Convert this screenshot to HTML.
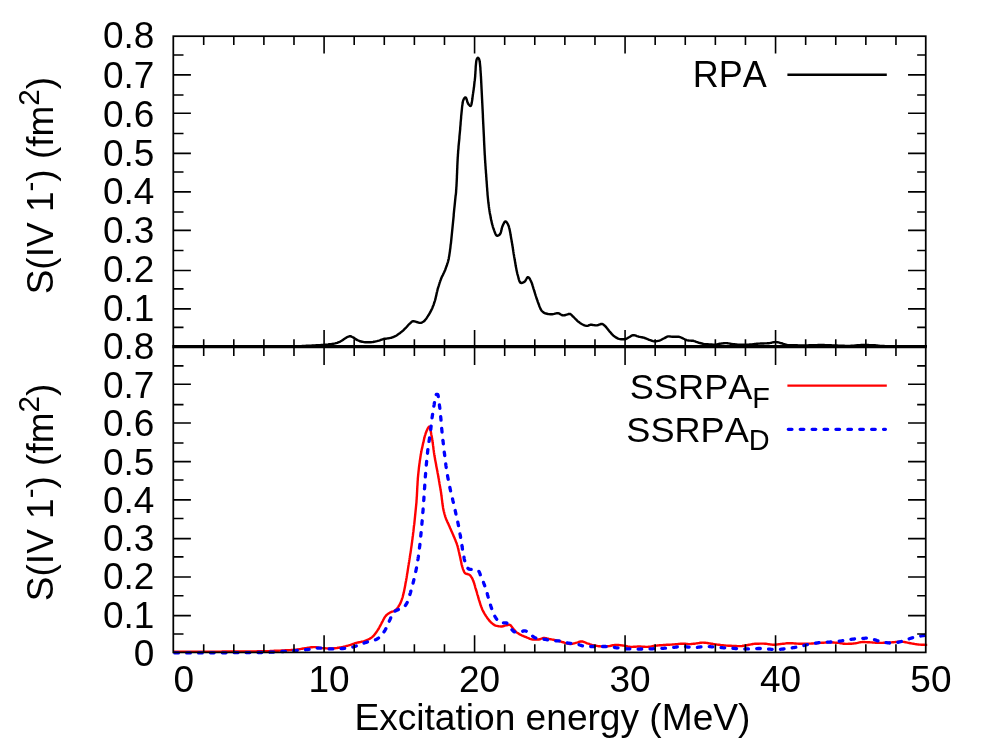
<!DOCTYPE html>
<html><head><meta charset="utf-8"><title>chart</title>
<style>
html,body{margin:0;padding:0;background:#fff;}
body{width:987px;height:740px;position:relative;overflow:hidden;font-family:"Liberation Sans",sans-serif;}
</style></head><body>
<svg width="987" height="740" viewBox="0 0 987 740" style="position:absolute;left:0;top:0">
<g fill="none" stroke-linejoin="round">
<path d="M173.3,346.6 L174.3,346.6 L175.3,346.6 L176.3,346.6 L177.3,346.6 L178.3,346.6 L179.3,346.6 L180.3,346.6 L181.3,346.6 L182.3,346.6 L183.3,346.6 L184.3,346.6 L185.3,346.6 L186.3,346.6 L187.3,346.6 L188.3,346.6 L189.3,346.6 L190.3,346.6 L191.3,346.6 L192.3,346.6 L193.3,346.6 L194.3,346.6 L195.3,346.6 L196.3,346.6 L197.3,346.6 L198.3,346.6 L199.3,346.6 L200.3,346.6 L201.3,346.6 L202.3,346.6 L203.3,346.6 L204.3,346.6 L205.3,346.6 L206.3,346.6 L207.3,346.6 L208.3,346.6 L209.3,346.5 L210.3,346.5 L211.3,346.5 L212.3,346.5 L213.3,346.5 L214.3,346.5 L215.3,346.5 L216.3,346.5 L217.3,346.5 L218.3,346.5 L219.3,346.5 L220.3,346.5 L221.3,346.5 L222.3,346.5 L223.3,346.5 L224.3,346.5 L225.3,346.5 L226.3,346.5 L227.3,346.5 L228.3,346.5 L229.3,346.5 L230.3,346.5 L231.3,346.5 L232.3,346.5 L233.3,346.5 L234.3,346.5 L235.3,346.5 L236.3,346.5 L237.3,346.5 L238.3,346.5 L239.3,346.5 L240.3,346.5 L241.3,346.5 L242.3,346.5 L243.3,346.5 L244.3,346.5 L245.3,346.5 L246.3,346.5 L247.3,346.5 L248.3,346.5 L249.3,346.5 L250.3,346.5 L251.3,346.4 L252.3,346.4 L253.3,346.4 L254.3,346.4 L255.3,346.4 L256.3,346.4 L257.3,346.4 L258.3,346.4 L259.3,346.4 L260.3,346.4 L261.3,346.4 L262.3,346.4 L263.3,346.4 L264.3,346.4 L265.3,346.4 L266.3,346.4 L267.3,346.4 L268.3,346.4 L269.3,346.4 L270.3,346.4 L271.3,346.4 L272.3,346.4 L273.3,346.4 L274.3,346.4 L275.3,346.4 L276.3,346.4 L277.3,346.3 L278.3,346.3 L279.3,346.3 L280.3,346.3 L281.3,346.3 L282.3,346.3 L283.3,346.3 L284.3,346.3 L285.3,346.3 L286.3,346.3 L287.3,346.3 L288.3,346.3 L289.3,346.3 L290.3,346.3 L291.3,346.2 L292.3,346.2 L293.3,346.2 L294.3,346.2 L295.3,346.2 L296.3,346.2 L297.3,346.2 L298.3,346.2 L299.3,346.1 L300.3,346.1 L301.3,346.1 L302.3,346.0 L303.3,346.0 L304.3,345.9 L305.3,345.9 L306.2,345.8 L307.2,345.8 L308.2,345.7 L309.2,345.7 L310.2,345.6 L311.2,345.6 L312.2,345.5 L313.2,345.5 L314.2,345.4 L315.2,345.4 L316.2,345.3 L317.2,345.3 L318.2,345.2 L319.2,345.2 L320.2,345.1 L321.2,345.0 L322.2,345.0 L323.2,344.9 L324.2,344.8 L325.2,344.7 L326.2,344.7 L327.2,344.6 L328.2,344.5 L329.2,344.3 L330.2,344.2 L331.2,344.1 L332.2,343.9 L333.2,343.8 L334.1,343.6 L335.1,343.4 L336.1,343.1 L337.1,342.8 L338.0,342.5 L338.9,342.1 L339.9,341.8 L340.7,341.3 L341.6,340.8 L342.4,340.3 L343.2,339.7 L344.1,339.1 L344.9,338.5 L345.8,338.0 L346.6,337.4 L347.5,337.0 L348.4,336.6 L349.4,336.3 L350.3,336.2 L351.3,336.5 L352.2,337.0 L353.1,337.4 L354.0,337.9 L354.8,338.5 L355.6,339.1 L356.5,339.6 L357.4,340.1 L358.3,340.5 L359.2,340.9 L360.1,341.3 L361.1,341.5 L362.1,341.7 L363.0,341.9 L364.0,342.1 L365.0,342.2 L366.0,342.2 L367.0,342.2 L368.0,342.2 L369.0,342.2 L370.0,342.2 L371.0,342.2 L372.0,342.1 L373.0,342.0 L374.0,341.8 L375.0,341.6 L376.0,341.4 L376.9,341.2 L377.9,340.9 L378.9,340.6 L379.8,340.3 L380.8,339.9 L381.7,339.6 L382.6,339.3 L383.6,339.0 L384.6,338.8 L385.6,338.7 L386.6,338.6 L387.6,338.4 L388.6,338.3 L389.5,338.1 L390.5,337.9 L391.5,337.7 L392.4,337.3 L393.4,337.0 L394.3,336.6 L395.2,336.2 L396.1,335.7 L396.9,335.2 L397.8,334.6 L398.6,334.0 L399.4,333.4 L400.2,332.9 L401.0,332.2 L401.8,331.6 L402.5,331.0 L403.3,330.3 L404.0,329.6 L404.7,328.9 L405.5,328.2 L406.1,327.5 L406.8,326.8 L407.5,326.0 L408.1,325.3 L408.8,324.5 L409.5,323.8 L410.3,323.1 L411.1,322.3 L411.9,321.6 L412.7,321.2 L413.6,321.1 L414.5,321.3 L415.5,321.6 L416.5,322.0 L417.5,322.2 L418.5,322.6 L419.4,322.8 L420.4,322.9 L421.4,322.7 L422.3,322.3 L423.2,321.8 L424.0,321.3 L424.7,320.6 L425.3,319.8 L426.0,319.0 L426.6,318.1 L427.1,317.3 L427.7,316.4 L428.2,315.6 L428.8,314.8 L429.3,313.9 L429.8,313.0 L430.3,312.2 L430.7,311.3 L431.2,310.4 L431.6,309.5 L432.1,308.6 L432.5,307.7 L432.8,306.7 L433.2,305.8 L433.6,304.9 L433.9,303.9 L434.2,303.0 L434.5,302.0 L434.8,301.1 L435.1,300.1 L435.4,299.2 L435.6,298.2 L435.8,297.2 L436.1,296.2 L436.3,295.3 L436.5,294.3 L436.7,293.3 L436.9,292.3 L437.2,291.3 L437.4,290.4 L437.6,289.4 L437.9,288.4 L438.2,287.5 L438.5,286.5 L438.8,285.6 L439.1,284.6 L439.4,283.7 L439.7,282.7 L440.0,281.8 L440.3,280.8 L440.7,279.9 L441.0,279.0 L441.4,278.0 L441.8,277.1 L442.2,276.2 L442.7,275.3 L443.1,274.4 L443.5,273.5 L444.0,272.6 L444.4,271.7 L444.8,270.8 L445.2,269.9 L445.5,268.9 L445.9,268.0 L446.2,267.0 L446.6,266.1 L446.9,265.2 L447.2,264.2 L447.5,263.2 L447.8,262.3 L448.1,261.3 L448.3,260.4 L448.6,259.4 L448.8,258.4 L448.9,257.4 L449.1,256.5 L449.3,255.5 L449.4,254.5 L449.6,253.5 L449.7,252.5 L449.9,251.5 L450.0,250.5 L450.1,249.5 L450.3,248.5 L450.4,247.5 L450.5,246.5 L450.6,245.5 L450.7,244.6 L450.9,243.6 L451.0,242.6 L451.1,241.6 L451.2,240.6 L451.3,239.6 L451.4,238.6 L451.5,237.6 L451.6,236.6 L451.7,235.6 L451.8,234.6 L451.9,233.6 L452.0,232.6 L452.1,231.6 L452.2,230.6 L452.3,229.6 L452.4,228.6 L452.5,227.7 L452.6,226.7 L452.7,225.7 L452.8,224.7 L452.9,223.7 L453.0,222.7 L453.1,221.7 L453.2,220.7 L453.3,219.7 L453.4,218.7 L453.5,217.7 L453.6,216.7 L453.7,215.7 L453.7,214.7 L453.8,213.7 L453.9,212.7 L454.0,211.7 L454.1,210.7 L454.2,209.7 L454.3,208.7 L454.4,207.7 L454.5,206.8 L454.6,205.8 L454.7,204.8 L454.8,203.8 L454.9,202.8 L455.0,201.8 L455.1,200.8 L455.2,199.8 L455.3,198.8 L455.4,197.8 L455.5,196.8 L455.6,195.8 L455.8,194.8 L455.9,193.8 L456.0,192.8 L456.1,191.8 L456.1,190.8 L456.2,189.8 L456.3,188.8 L456.3,187.9 L456.4,186.9 L456.5,185.9 L456.5,184.9 L456.6,183.9 L456.6,182.9 L456.7,181.9 L456.7,180.9 L456.8,179.9 L456.8,178.9 L456.9,177.9 L456.9,176.9 L456.9,175.9 L457.0,174.9 L457.0,173.9 L457.1,172.9 L457.1,171.9 L457.1,170.9 L457.2,169.9 L457.2,168.9 L457.3,167.9 L457.3,166.9 L457.3,165.9 L457.4,164.9 L457.4,163.9 L457.5,162.9 L457.5,161.9 L457.6,160.9 L457.6,159.9 L457.7,158.9 L457.7,157.9 L457.8,156.9 L457.9,155.9 L457.9,154.9 L458.0,153.9 L458.1,152.9 L458.1,151.9 L458.2,150.9 L458.3,149.9 L458.4,148.9 L458.5,147.9 L458.5,146.9 L458.6,145.9 L458.7,144.9 L458.8,143.9 L458.9,142.9 L459.0,141.9 L459.1,141.0 L459.2,140.0 L459.3,139.0 L459.4,138.0 L459.4,137.0 L459.5,136.0 L459.6,135.0 L459.7,134.0 L459.8,133.0 L459.9,132.0 L460.0,131.0 L460.1,130.0 L460.2,129.0 L460.2,128.0 L460.3,127.0 L460.4,126.0 L460.5,125.0 L460.6,124.0 L460.6,123.0 L460.7,122.0 L460.8,121.0 L460.9,120.0 L461.0,119.0 L461.1,118.0 L461.1,117.0 L461.2,116.0 L461.3,115.1 L461.4,114.1 L461.5,113.1 L461.6,112.1 L461.7,111.1 L461.8,110.1 L461.9,109.1 L462.0,108.0 L462.1,107.0 L462.2,106.0 L462.4,105.0 L462.5,104.0 L462.7,103.0 L462.8,102.0 L463.0,101.1 L463.3,100.2 L463.8,99.1 L464.4,98.1 L465.1,97.4 L465.6,97.4 L466.0,97.8 L466.4,98.6 L466.7,99.7 L467.1,100.9 L467.4,102.1 L467.9,103.2 L468.4,104.1 L469.2,105.0 L470.0,105.8 L470.5,106.0 L470.8,105.8 L471.1,105.3 L471.4,104.6 L471.6,103.6 L471.8,102.6 L472.0,101.4 L472.2,100.1 L472.4,98.8 L472.5,97.5 L472.7,96.3 L472.8,95.1 L473.0,94.0 L473.1,93.1 L473.3,92.1 L473.4,91.1 L473.6,90.1 L473.7,89.1 L473.8,88.1 L474.0,87.1 L474.1,86.1 L474.2,85.1 L474.3,84.1 L474.4,83.1 L474.5,82.1 L474.6,81.2 L474.8,80.2 L474.9,79.2 L475.0,78.2 L475.1,77.2 L475.2,76.2 L475.2,75.2 L475.3,74.1 L475.4,73.1 L475.4,72.1 L475.5,71.0 L475.6,70.0 L475.6,69.0 L475.7,67.9 L475.7,66.9 L475.8,65.9 L475.9,64.9 L476.0,63.9 L476.1,62.9 L476.2,62.0 L476.3,61.1 L476.5,60.2 L476.7,59.3 L477.3,58.2 L477.9,57.7 L478.5,58.2 L479.1,59.2 L479.5,60.3 L479.6,61.3 L479.8,62.2 L479.9,63.2 L480.0,64.2 L480.1,65.2 L480.2,66.2 L480.3,67.2 L480.4,68.2 L480.4,69.3 L480.5,70.3 L480.6,71.3 L480.6,72.2 L480.7,73.2 L480.8,74.2 L480.8,75.2 L480.9,76.2 L481.0,77.2 L481.0,78.2 L481.1,79.2 L481.1,80.2 L481.2,81.2 L481.2,82.2 L481.3,83.2 L481.3,84.2 L481.4,85.2 L481.4,86.2 L481.5,87.2 L481.5,88.2 L481.6,89.2 L481.6,90.2 L481.7,91.2 L481.7,92.2 L481.8,93.2 L481.8,94.2 L481.9,95.2 L481.9,96.2 L482.0,97.2 L482.0,98.2 L482.1,99.2 L482.1,100.2 L482.2,101.2 L482.2,102.2 L482.3,103.2 L482.3,104.2 L482.4,105.2 L482.4,106.2 L482.5,107.2 L482.5,108.2 L482.6,109.2 L482.6,110.2 L482.7,111.2 L482.7,112.2 L482.8,113.2 L482.8,114.2 L482.9,115.2 L482.9,116.2 L482.9,117.2 L483.0,118.2 L483.0,119.2 L483.1,120.2 L483.1,121.2 L483.2,122.2 L483.2,123.2 L483.3,124.2 L483.3,125.2 L483.4,126.2 L483.4,127.2 L483.5,128.2 L483.5,129.2 L483.6,130.2 L483.6,131.2 L483.7,132.2 L483.7,133.2 L483.8,134.2 L483.8,135.2 L483.9,136.1 L483.9,137.1 L484.0,138.1 L484.0,139.1 L484.0,140.1 L484.1,141.1 L484.1,142.1 L484.2,143.1 L484.2,144.1 L484.3,145.1 L484.3,146.1 L484.4,147.1 L484.4,148.1 L484.5,149.1 L484.5,150.1 L484.6,151.1 L484.6,152.1 L484.7,153.1 L484.7,154.1 L484.8,155.1 L484.9,156.1 L484.9,157.1 L485.0,158.1 L485.0,159.1 L485.1,160.1 L485.2,161.1 L485.2,162.1 L485.3,163.1 L485.4,164.1 L485.4,165.1 L485.5,166.1 L485.6,167.1 L485.6,168.1 L485.7,169.1 L485.8,170.1 L485.9,171.1 L485.9,172.1 L486.0,173.1 L486.1,174.1 L486.2,175.1 L486.2,176.1 L486.3,177.1 L486.4,178.1 L486.4,179.1 L486.5,180.1 L486.6,181.1 L486.7,182.0 L486.7,183.0 L486.8,184.0 L486.9,185.0 L486.9,186.0 L487.0,187.0 L487.1,188.0 L487.2,189.0 L487.2,190.0 L487.3,191.0 L487.4,192.0 L487.5,193.0 L487.5,194.0 L487.6,195.0 L487.7,196.0 L487.8,197.0 L487.9,198.0 L488.0,199.0 L488.1,200.0 L488.2,201.0 L488.3,202.0 L488.4,203.0 L488.6,204.0 L488.7,205.0 L488.8,205.9 L488.9,206.9 L489.1,207.9 L489.2,208.9 L489.4,209.9 L489.5,210.9 L489.7,211.9 L489.8,212.9 L490.0,213.9 L490.2,214.8 L490.4,215.8 L490.6,216.8 L490.7,217.8 L490.9,218.8 L491.1,219.7 L491.3,220.7 L491.6,221.7 L491.8,222.7 L492.0,223.7 L492.3,224.7 L492.6,225.6 L492.8,226.6 L493.1,227.5 L493.4,228.5 L493.8,229.4 L494.1,230.3 L494.5,231.4 L494.9,232.6 L495.4,233.7 L495.9,234.7 L496.5,235.4 L497.1,235.8 L497.8,235.7 L498.8,235.2 L499.7,234.5 L500.2,233.8 L500.6,233.1 L500.9,232.2 L501.2,231.2 L501.4,230.1 L501.7,229.1 L501.9,228.0 L502.2,227.0 L502.6,226.0 L503.0,225.1 L503.5,224.0 L504.0,222.9 L504.6,222.0 L505.2,221.5 L505.8,221.5 L506.5,222.1 L507.2,223.0 L507.8,224.0 L508.2,224.9 L508.6,225.8 L508.9,226.7 L509.1,227.6 L509.4,228.6 L509.6,229.5 L509.8,230.5 L510.0,231.5 L510.2,232.5 L510.4,233.6 L510.5,234.6 L510.7,235.6 L510.9,236.6 L511.0,237.6 L511.2,238.6 L511.4,239.6 L511.6,240.6 L511.7,241.6 L511.9,242.6 L512.1,243.5 L512.2,244.5 L512.4,245.5 L512.6,246.5 L512.7,247.5 L512.9,248.5 L513.0,249.5 L513.2,250.5 L513.3,251.4 L513.5,252.4 L513.6,253.4 L513.8,254.4 L514.0,255.4 L514.1,256.4 L514.3,257.4 L514.5,258.4 L514.6,259.3 L514.8,260.3 L515.0,261.3 L515.1,262.3 L515.3,263.3 L515.5,264.3 L515.6,265.3 L515.8,266.3 L516.0,267.3 L516.2,268.3 L516.4,269.2 L516.5,270.2 L516.8,271.2 L517.0,272.2 L517.2,273.1 L517.4,274.1 L517.7,275.0 L518.0,276.0 L518.3,277.2 L518.6,278.4 L518.9,279.6 L519.3,280.7 L519.7,281.7 L520.2,282.5 L520.7,282.9 L521.3,283.0 L522.3,282.8 L523.3,282.4 L524.3,281.9 L525.0,281.3 L525.6,280.3 L526.2,279.3 L526.8,278.2 L527.3,277.5 L527.9,277.1 L528.6,277.3 L529.2,278.0 L529.9,279.0 L530.4,280.1 L530.9,281.0 L531.3,281.9 L531.7,282.8 L532.0,283.7 L532.3,284.7 L532.6,285.7 L532.9,286.6 L533.2,287.6 L533.5,288.6 L533.8,289.5 L534.1,290.5 L534.4,291.4 L534.7,292.4 L535.0,293.4 L535.3,294.3 L535.6,295.3 L535.9,296.2 L536.2,297.2 L536.5,298.1 L536.8,299.1 L537.2,300.0 L537.5,301.0 L537.8,301.9 L538.2,302.8 L538.5,303.8 L538.9,304.7 L539.2,305.7 L539.6,306.7 L540.0,307.6 L540.4,308.6 L540.8,309.4 L541.3,310.2 L541.9,311.0 L542.6,311.7 L543.4,312.4 L544.3,312.9 L545.2,313.3 L546.1,313.5 L547.1,313.8 L548.1,314.0 L549.1,314.1 L550.1,314.2 L551.1,314.3 L552.1,314.3 L553.1,314.1 L554.1,313.9 L555.1,313.6 L556.1,313.4 L557.0,313.2 L558.0,313.2 L558.9,313.4 L559.9,313.9 L560.8,314.5 L561.7,315.0 L562.6,315.3 L563.6,315.4 L564.6,315.2 L565.6,315.0 L566.6,314.6 L567.6,314.3 L568.5,314.0 L569.4,313.9 L570.3,314.0 L571.1,314.6 L571.9,315.3 L572.6,316.2 L573.4,316.8 L574.1,317.5 L574.8,318.3 L575.5,319.0 L576.2,319.7 L576.9,320.4 L577.6,321.1 L578.4,321.7 L579.2,322.3 L580.0,322.9 L580.9,323.5 L581.7,324.0 L582.6,324.5 L583.5,324.9 L584.4,325.3 L585.4,325.6 L586.4,325.9 L587.3,325.9 L588.3,325.6 L589.2,325.1 L590.2,324.8 L591.2,324.7 L592.2,324.8 L593.1,325.0 L594.1,325.1 L595.1,325.3 L596.1,325.4 L597.1,325.3 L598.1,325.1 L599.1,324.7 L600.1,324.3 L601.0,324.0 L601.9,323.9 L602.8,324.2 L603.7,324.8 L604.5,325.5 L605.2,326.1 L605.9,326.9 L606.5,327.6 L607.1,328.4 L607.8,329.2 L608.4,330.0 L609.0,330.8 L609.7,331.6 L610.4,332.3 L611.0,333.1 L611.7,333.9 L612.4,334.6 L613.1,335.3 L613.8,336.0 L614.6,336.5 L615.4,337.1 L616.3,337.6 L617.2,338.1 L618.1,338.6 L619.1,338.9 L620.0,339.1 L621.0,339.2 L622.0,339.2 L623.0,339.3 L624.0,339.3 L625.0,339.3 L625.9,339.0 L626.8,338.6 L627.7,338.0 L628.6,337.4 L629.5,337.0 L630.4,336.4 L631.3,335.8 L632.2,335.4 L633.1,335.1 L634.0,335.2 L635.0,335.4 L635.9,335.7 L636.9,336.1 L637.9,336.4 L638.8,336.7 L639.8,336.9 L640.8,337.1 L641.8,337.3 L642.8,337.5 L643.7,337.7 L644.7,338.0 L645.6,338.3 L646.5,338.7 L647.5,339.1 L648.4,339.5 L649.3,339.8 L650.3,340.1 L651.2,340.5 L652.2,340.8 L653.2,341.1 L654.1,341.3 L655.1,341.3 L656.1,341.2 L657.1,341.1 L658.1,340.9 L659.1,340.7 L660.0,340.4 L660.9,340.0 L661.8,339.5 L662.7,339.0 L663.6,338.5 L664.5,338.1 L665.4,337.6 L666.3,337.1 L667.2,336.7 L668.2,336.4 L669.1,336.4 L670.1,336.5 L671.1,336.6 L672.1,336.7 L673.1,336.7 L674.1,336.7 L675.1,336.7 L676.2,336.7 L677.2,336.7 L678.1,336.7 L679.1,336.8 L680.1,337.1 L681.0,337.5 L681.9,337.9 L682.8,338.3 L683.7,338.8 L684.7,339.3 L685.6,339.7 L686.5,340.1 L687.4,340.4 L688.4,340.5 L689.4,340.6 L690.4,340.6 L691.4,340.7 L692.4,340.7 L693.4,340.8 L694.3,341.1 L695.3,341.4 L696.2,341.8 L697.2,342.1 L698.1,342.5 L699.1,342.8 L700.0,343.0 L701.0,343.3 L702.0,343.5 L703.0,343.8 L703.9,344.0 L704.9,344.1 L705.9,344.2 L706.9,344.3 L707.9,344.3 L708.9,344.4 L709.9,344.5 L710.9,344.5 L711.9,344.5 L712.9,344.6 L713.9,344.6 L714.9,344.6 L715.9,344.6 L716.9,344.4 L717.9,344.2 L718.8,344.0 L719.8,343.8 L720.8,343.6 L721.8,343.5 L722.8,343.4 L723.8,343.2 L724.8,343.1 L725.8,343.1 L726.8,343.1 L727.8,343.3 L728.8,343.4 L729.7,343.6 L730.7,343.8 L731.7,343.9 L732.7,344.1 L733.7,344.2 L734.7,344.3 L735.7,344.4 L736.7,344.5 L737.7,344.6 L738.7,344.6 L739.7,344.6 L740.7,344.6 L741.7,344.6 L742.7,344.6 L743.7,344.6 L744.7,344.6 L745.7,344.6 L746.7,344.6 L747.7,344.6 L748.7,344.6 L749.7,344.5 L750.7,344.5 L751.7,344.4 L752.7,344.3 L753.7,344.1 L754.7,344.0 L755.7,343.9 L756.7,343.8 L757.7,343.7 L758.6,343.6 L759.6,343.6 L760.6,343.5 L761.6,343.5 L762.6,343.5 L763.7,343.5 L764.7,343.4 L765.7,343.4 L766.6,343.4 L767.6,343.3 L768.6,343.3 L769.6,343.1 L770.6,342.9 L771.6,342.7 L772.6,342.4 L773.6,342.2 L774.5,342.1 L775.5,342.0 L776.5,342.1 L777.5,342.2 L778.5,342.4 L779.4,342.7 L780.4,343.0 L781.4,343.2 L782.4,343.5 L783.3,343.8 L784.3,344.1 L785.2,344.5 L786.2,344.8 L787.2,345.0 L788.1,345.1 L789.1,345.1 L790.1,345.2 L791.1,345.2 L792.1,345.2 L793.1,345.3 L794.1,345.3 L795.1,345.3 L796.1,345.3 L797.1,345.3 L798.1,345.4 L799.1,345.4 L800.1,345.4 L801.1,345.4 L802.1,345.4 L803.1,345.4 L804.1,345.4 L805.1,345.4 L806.1,345.4 L807.1,345.4 L808.1,345.4 L809.1,345.3 L810.1,345.3 L811.1,345.3 L812.1,345.2 L813.1,345.2 L814.1,345.2 L815.1,345.1 L816.1,345.1 L817.1,345.1 L818.1,345.0 L819.1,345.0 L820.1,345.0 L821.1,345.0 L822.1,345.0 L823.1,345.0 L824.1,345.0 L825.1,345.1 L826.1,345.1 L827.1,345.1 L828.1,345.2 L829.1,345.2 L830.1,345.3 L831.1,345.3 L832.1,345.4 L833.1,345.4 L834.1,345.4 L835.1,345.5 L836.1,345.5 L837.1,345.5 L838.1,345.6 L839.1,345.6 L840.1,345.7 L841.1,345.7 L842.1,345.8 L843.1,345.8 L844.1,345.8 L845.1,345.9 L846.1,345.9 L847.1,345.9 L848.1,345.9 L849.1,345.9 L850.1,345.9 L851.1,345.8 L852.1,345.8 L853.1,345.7 L854.1,345.6 L855.1,345.5 L856.1,345.4 L857.1,345.3 L858.1,345.2 L859.1,345.2 L860.1,345.1 L861.1,345.0 L862.1,345.0 L863.1,345.0 L864.1,345.0 L865.1,345.0 L866.1,345.0 L867.1,345.0 L868.1,345.0 L869.1,345.1 L870.1,345.1 L871.1,345.1 L872.1,345.1 L873.1,345.2 L874.1,345.2 L875.1,345.3 L876.1,345.4 L877.0,345.5 L878.0,345.7 L879.0,345.8 L880.0,345.9 L881.0,346.0 L882.0,346.0 L883.0,346.0 L884.0,346.0 L885.0,346.1 L886.0,346.1 L887.0,346.1 L888.0,346.1 L889.0,346.1 L890.0,346.1 L891.0,346.1 L892.0,346.1 L893.0,346.2 L894.0,346.2 L895.0,346.2 L896.0,346.2 L897.0,346.2 L898.0,346.2 L899.0,346.2 L900.0,346.2 L901.0,346.2 L902.0,346.2 L903.0,346.2 L904.0,346.2 L905.0,346.2 L906.0,346.3 L907.0,346.3 L908.0,346.3 L909.0,346.3 L910.0,346.3 L911.0,346.3 L912.0,346.3 L913.0,346.3 L914.0,346.3 L915.0,346.3 L916.0,346.3 L917.0,346.3 L918.0,346.3 L919.0,346.3 L920.0,346.3 L921.0,346.3 L922.0,346.3 L923.0,346.3 L924.0,346.3 L925.0,346.3 L926.0,346.3 L927.0,346.3" stroke="#000" stroke-width="2.4"/>
<path d="M787.4,74.7 H886.8" stroke="#000" stroke-width="2.4"/>
<path d="M173.3,651.8 L174.3,651.8 L175.3,651.8 L176.3,651.8 L177.3,651.8 L178.3,651.8 L179.3,651.8 L180.3,651.8 L181.3,651.8 L182.3,651.8 L183.3,651.8 L184.3,651.8 L185.3,651.7 L186.3,651.7 L187.3,651.7 L188.3,651.7 L189.3,651.7 L190.3,651.7 L191.3,651.7 L192.3,651.7 L193.3,651.7 L194.3,651.7 L195.3,651.7 L196.3,651.7 L197.3,651.7 L198.3,651.7 L199.3,651.7 L200.3,651.7 L201.3,651.7 L202.3,651.7 L203.3,651.7 L204.3,651.6 L205.3,651.6 L206.3,651.6 L207.3,651.6 L208.3,651.6 L209.3,651.6 L210.3,651.6 L211.3,651.6 L212.3,651.6 L213.3,651.6 L214.3,651.6 L215.3,651.6 L216.3,651.6 L217.3,651.6 L218.3,651.6 L219.3,651.6 L220.3,651.6 L221.3,651.6 L222.3,651.5 L223.3,651.5 L224.3,651.5 L225.3,651.5 L226.3,651.5 L227.3,651.5 L228.3,651.5 L229.3,651.5 L230.3,651.5 L231.3,651.5 L232.3,651.5 L233.3,651.5 L234.3,651.5 L235.3,651.5 L236.3,651.5 L237.3,651.5 L238.3,651.5 L239.3,651.5 L240.3,651.5 L241.3,651.4 L242.3,651.4 L243.3,651.4 L244.3,651.4 L245.3,651.4 L246.3,651.4 L247.3,651.4 L248.3,651.4 L249.3,651.4 L250.3,651.4 L251.3,651.4 L252.3,651.4 L253.3,651.4 L254.3,651.4 L255.3,651.4 L256.3,651.4 L257.3,651.3 L258.3,651.3 L259.3,651.3 L260.3,651.3 L261.3,651.3 L262.3,651.3 L263.3,651.3 L264.3,651.2 L265.3,651.2 L266.3,651.2 L267.3,651.2 L268.3,651.1 L269.3,651.1 L270.3,651.0 L271.3,651.0 L272.3,650.9 L273.3,650.9 L274.3,650.8 L275.3,650.8 L276.3,650.8 L277.3,650.7 L278.3,650.7 L279.3,650.6 L280.3,650.6 L281.3,650.5 L282.3,650.5 L283.3,650.4 L284.3,650.4 L285.3,650.3 L286.3,650.3 L287.3,650.2 L288.3,650.2 L289.3,650.1 L290.3,650.1 L291.3,650.0 L292.3,650.0 L293.3,649.9 L294.2,649.8 L295.2,649.7 L296.2,649.6 L297.2,649.5 L298.2,649.4 L299.2,649.2 L300.2,649.1 L301.2,648.9 L302.2,648.7 L303.1,648.5 L304.1,648.4 L305.1,648.2 L306.1,648.1 L307.1,647.9 L308.1,647.7 L309.1,647.6 L310.1,647.4 L311.1,647.3 L312.1,647.2 L313.1,647.1 L314.0,647.1 L315.0,647.1 L316.0,647.2 L317.0,647.4 L318.0,647.5 L319.0,647.7 L320.0,647.9 L321.0,648.0 L322.0,648.1 L323.0,648.2 L324.0,648.2 L325.0,648.3 L326.0,648.4 L327.0,648.4 L328.0,648.5 L329.0,648.5 L330.0,648.5 L331.0,648.5 L332.0,648.5 L333.0,648.4 L334.0,648.3 L335.0,648.2 L336.0,648.1 L337.0,648.0 L338.0,647.8 L338.9,647.7 L339.9,647.5 L340.9,647.4 L341.9,647.2 L342.9,647.0 L343.8,646.7 L344.8,646.5 L345.8,646.2 L346.7,645.9 L347.7,645.7 L348.7,645.4 L349.6,645.1 L350.6,644.8 L351.5,644.5 L352.5,644.2 L353.4,643.8 L354.4,643.5 L355.3,643.2 L356.3,642.9 L357.2,642.7 L358.2,642.5 L359.2,642.3 L360.2,642.1 L361.2,641.8 L362.2,641.6 L363.1,641.4 L364.1,641.1 L365.0,640.8 L366.0,640.5 L366.9,640.1 L367.8,639.7 L368.8,639.2 L369.7,638.8 L370.5,638.2 L371.3,637.7 L372.1,637.1 L372.8,636.5 L373.5,635.8 L374.2,635.1 L374.8,634.3 L375.4,633.5 L376.1,632.6 L376.6,631.8 L377.2,630.9 L377.7,630.1 L378.3,629.3 L378.8,628.4 L379.3,627.5 L379.7,626.7 L380.2,625.8 L380.7,624.9 L381.2,624.0 L381.6,623.1 L382.1,622.2 L382.6,621.3 L383.0,620.4 L383.5,619.5 L384.0,618.6 L384.5,617.7 L385.0,616.9 L385.6,616.1 L386.2,615.4 L386.9,614.7 L387.7,614.1 L388.5,613.5 L389.4,612.9 L390.2,612.4 L391.2,612.0 L392.1,611.7 L393.1,611.4 L394.0,611.0 L394.8,610.5 L395.6,610.0 L396.3,609.3 L397.0,608.5 L397.7,607.7 L398.3,606.8 L398.8,606.0 L399.3,605.2 L399.8,604.3 L400.3,603.4 L400.7,602.5 L401.1,601.6 L401.4,600.6 L401.8,599.7 L402.1,598.7 L402.4,597.8 L402.7,596.8 L402.9,595.9 L403.2,594.9 L403.4,593.9 L403.7,592.9 L403.9,592.0 L404.1,591.0 L404.3,590.0 L404.5,589.0 L404.7,588.0 L404.9,587.0 L405.1,586.1 L405.3,585.1 L405.4,584.1 L405.6,583.1 L405.8,582.1 L406.0,581.1 L406.2,580.2 L406.3,579.2 L406.5,578.2 L406.7,577.2 L406.8,576.2 L407.0,575.2 L407.1,574.2 L407.3,573.3 L407.5,572.3 L407.6,571.3 L407.8,570.3 L407.9,569.3 L408.1,568.3 L408.2,567.3 L408.4,566.3 L408.5,565.3 L408.7,564.4 L408.8,563.4 L409.0,562.4 L409.2,561.4 L409.3,560.4 L409.5,559.4 L409.6,558.4 L409.8,557.4 L409.9,556.5 L410.1,555.5 L410.2,554.5 L410.4,553.5 L410.6,552.5 L410.7,551.5 L410.9,550.5 L411.0,549.5 L411.1,548.6 L411.3,547.6 L411.4,546.6 L411.6,545.6 L411.7,544.6 L411.8,543.6 L412.0,542.6 L412.1,541.6 L412.2,540.6 L412.4,539.6 L412.5,538.6 L412.6,537.7 L412.7,536.7 L412.9,535.7 L413.0,534.7 L413.1,533.7 L413.2,532.7 L413.4,531.7 L413.5,530.7 L413.6,529.7 L413.7,528.7 L413.8,527.7 L413.9,526.7 L414.0,525.7 L414.2,524.7 L414.3,523.8 L414.4,522.8 L414.5,521.8 L414.6,520.8 L414.7,519.8 L414.8,518.8 L414.9,517.8 L415.0,516.8 L415.1,515.8 L415.2,514.8 L415.3,513.8 L415.4,512.8 L415.5,511.8 L415.6,510.8 L415.7,509.8 L415.8,508.8 L415.9,507.8 L416.0,506.8 L416.1,505.9 L416.2,504.9 L416.3,503.9 L416.4,502.9 L416.5,501.9 L416.5,500.9 L416.6,499.9 L416.7,498.9 L416.7,497.9 L416.8,496.9 L416.9,495.9 L416.9,494.9 L417.0,493.9 L417.0,492.9 L417.1,491.9 L417.1,490.9 L417.2,489.9 L417.2,488.9 L417.3,487.9 L417.3,486.9 L417.4,485.9 L417.5,484.9 L417.5,483.9 L417.6,482.9 L417.6,481.9 L417.7,480.9 L417.8,479.9 L417.8,478.9 L417.9,477.9 L418.0,476.9 L418.1,475.9 L418.2,474.9 L418.3,473.9 L418.4,472.9 L418.5,471.9 L418.6,471.0 L418.7,470.0 L418.8,469.0 L418.9,468.0 L419.0,467.0 L419.2,466.0 L419.3,465.0 L419.4,464.0 L419.6,463.0 L419.7,462.0 L419.8,461.0 L420.0,460.0 L420.1,459.0 L420.3,458.1 L420.4,457.1 L420.6,456.1 L420.7,455.1 L420.9,454.1 L421.1,453.1 L421.3,452.1 L421.4,451.2 L421.6,450.2 L421.8,449.2 L422.1,448.2 L422.3,447.2 L422.5,446.3 L422.7,445.3 L422.9,444.3 L423.1,443.3 L423.4,442.4 L423.6,441.4 L423.8,440.4 L424.0,439.4 L424.2,438.4 L424.5,437.5 L424.7,436.5 L425.0,435.5 L425.3,434.6 L425.6,433.6 L425.9,432.7 L426.3,431.7 L426.8,430.5 L427.3,429.4 L427.8,428.3 L428.4,427.4 L428.8,426.8 L429.2,426.6 L429.5,426.8 L429.8,427.4 L430.1,428.3 L430.4,429.4 L430.6,430.7 L430.9,431.9 L431.1,433.2 L431.3,434.4 L431.5,435.4 L431.7,436.3 L431.9,437.3 L432.0,438.3 L432.2,439.3 L432.3,440.3 L432.5,441.3 L432.6,442.3 L432.8,443.3 L432.9,444.2 L433.0,445.2 L433.2,446.2 L433.3,447.2 L433.4,448.2 L433.5,449.2 L433.7,450.2 L433.8,451.2 L433.9,452.2 L434.1,453.2 L434.2,454.2 L434.4,455.2 L434.5,456.1 L434.7,457.1 L434.9,458.1 L435.0,459.1 L435.2,460.1 L435.4,461.1 L435.6,462.0 L435.8,463.0 L436.0,464.0 L436.1,465.0 L436.3,466.0 L436.5,467.0 L436.7,467.9 L436.9,468.9 L437.1,469.9 L437.3,470.9 L437.5,471.9 L437.6,472.9 L437.8,473.8 L438.0,474.8 L438.2,475.8 L438.3,476.8 L438.5,477.8 L438.7,478.8 L438.9,479.7 L439.0,480.7 L439.2,481.7 L439.4,482.7 L439.5,483.7 L439.7,484.7 L439.9,485.7 L440.0,486.6 L440.2,487.6 L440.4,488.6 L440.5,489.6 L440.7,490.6 L440.9,491.6 L441.0,492.6 L441.2,493.6 L441.3,494.5 L441.4,495.5 L441.6,496.5 L441.7,497.5 L441.8,498.5 L441.9,499.5 L442.1,500.5 L442.2,501.5 L442.3,502.5 L442.4,503.5 L442.6,504.5 L442.7,505.5 L442.9,506.4 L443.0,507.4 L443.2,508.4 L443.4,509.4 L443.6,510.4 L443.8,511.3 L444.1,512.3 L444.3,513.3 L444.6,514.3 L444.9,515.2 L445.1,516.2 L445.4,517.1 L445.8,518.1 L446.1,519.0 L446.5,519.9 L446.9,520.8 L447.3,521.8 L447.7,522.7 L448.2,523.6 L448.6,524.5 L449.0,525.4 L449.4,526.3 L449.8,527.2 L450.2,528.2 L450.6,529.1 L451.0,530.0 L451.4,530.9 L451.8,531.8 L452.2,532.7 L452.6,533.6 L453.0,534.6 L453.4,535.5 L453.8,536.4 L454.2,537.3 L454.6,538.2 L455.0,539.2 L455.4,540.1 L455.7,541.0 L456.1,542.0 L456.5,542.9 L456.8,543.8 L457.1,544.8 L457.4,545.7 L457.7,546.7 L457.9,547.6 L458.2,548.6 L458.4,549.6 L458.6,550.6 L458.8,551.5 L459.1,552.5 L459.3,553.5 L459.5,554.5 L459.7,555.4 L460.0,556.4 L460.2,557.4 L460.4,558.4 L460.6,559.4 L460.8,560.4 L461.0,561.3 L461.2,562.3 L461.4,563.3 L461.6,564.3 L461.9,565.3 L462.1,566.2 L462.4,567.2 L462.7,568.1 L463.0,569.1 L463.4,570.1 L463.8,571.1 L464.3,572.1 L464.8,572.9 L465.4,573.5 L466.2,573.8 L467.3,574.0 L468.3,574.3 L469.2,574.6 L470.0,575.2 L470.6,575.9 L471.2,576.8 L471.8,577.7 L472.3,578.6 L472.7,579.5 L473.1,580.4 L473.4,581.3 L473.8,582.3 L474.1,583.2 L474.4,584.2 L474.7,585.2 L475.0,586.1 L475.2,587.1 L475.5,588.1 L475.8,589.0 L476.1,590.0 L476.4,590.9 L476.7,591.9 L477.0,592.9 L477.2,593.8 L477.5,594.8 L477.8,595.7 L478.1,596.7 L478.3,597.7 L478.6,598.6 L478.9,599.6 L479.2,600.5 L479.5,601.5 L479.8,602.4 L480.1,603.4 L480.4,604.4 L480.7,605.3 L481.1,606.3 L481.4,607.2 L481.8,608.1 L482.1,609.0 L482.5,610.0 L483.0,610.9 L483.4,611.7 L483.9,612.6 L484.4,613.5 L484.9,614.4 L485.5,615.2 L486.0,616.1 L486.6,616.9 L487.1,617.7 L487.7,618.5 L488.3,619.3 L488.9,620.1 L489.6,620.9 L490.3,621.7 L491.0,622.4 L491.7,623.0 L492.5,623.6 L493.3,624.3 L494.1,624.9 L495.0,625.4 L495.9,625.7 L496.9,625.9 L497.8,626.1 L498.8,626.3 L499.8,626.4 L500.9,626.5 L501.8,626.5 L502.8,626.3 L503.8,626.0 L504.7,625.7 L505.7,625.4 L506.7,625.2 L507.8,625.0 L508.8,624.9 L509.6,624.8 L510.4,625.1 L511.1,625.9 L511.8,626.8 L512.5,627.7 L513.1,628.4 L513.7,629.2 L514.4,630.0 L515.0,630.8 L515.7,631.5 L516.4,632.1 L517.2,632.7 L518.1,633.3 L518.9,633.9 L519.8,634.4 L520.7,634.8 L521.5,635.3 L522.5,635.7 L523.4,636.1 L524.3,636.5 L525.3,636.8 L526.2,637.2 L527.1,637.6 L528.1,638.0 L529.0,638.4 L529.9,638.8 L530.9,639.1 L531.8,639.4 L532.8,639.5 L533.8,639.5 L534.8,639.5 L535.8,639.5 L536.8,639.5 L537.8,639.5 L538.8,639.5 L539.8,639.3 L540.7,638.9 L541.7,638.5 L542.6,638.1 L543.6,637.9 L544.5,637.9 L545.5,638.1 L546.5,638.3 L547.5,638.6 L548.5,638.8 L549.5,639.1 L550.4,639.2 L551.4,639.4 L552.4,639.6 L553.4,639.8 L554.4,640.0 L555.3,640.2 L556.3,640.4 L557.3,640.7 L558.2,640.9 L559.2,641.2 L560.2,641.5 L561.1,641.7 L562.1,642.0 L563.1,642.2 L564.0,642.5 L565.0,642.9 L566.0,643.2 L567.0,643.5 L567.9,643.7 L568.9,643.9 L569.9,644.0 L570.9,644.0 L571.8,643.9 L572.8,643.7 L573.8,643.4 L574.8,643.2 L575.8,642.9 L576.7,642.7 L577.7,642.4 L578.7,642.0 L579.6,641.7 L580.6,641.5 L581.5,641.4 L582.5,641.5 L583.5,641.8 L584.4,642.1 L585.3,642.5 L586.3,643.0 L587.2,643.3 L588.2,643.6 L589.2,643.9 L590.1,644.3 L591.1,644.6 L592.0,644.9 L593.0,645.1 L593.9,645.4 L594.9,645.6 L595.9,645.7 L596.9,645.9 L597.9,646.1 L598.9,646.2 L599.9,646.3 L600.9,646.4 L601.9,646.5 L602.9,646.5 L603.9,646.5 L604.9,646.4 L605.9,646.4 L606.9,646.3 L607.9,646.2 L608.9,646.1 L609.8,646.0 L610.8,645.8 L611.8,645.5 L612.8,645.3 L613.8,645.1 L614.8,645.0 L615.7,644.9 L616.7,644.9 L617.7,645.0 L618.7,645.0 L619.7,645.1 L620.7,645.2 L621.7,645.4 L622.7,645.5 L623.7,645.6 L624.7,645.8 L625.7,646.0 L626.7,646.2 L627.6,646.5 L628.6,646.7 L629.6,646.8 L630.6,646.9 L631.6,646.9 L632.6,646.9 L633.6,646.8 L634.6,646.7 L635.6,646.7 L636.6,646.6 L637.6,646.5 L638.6,646.5 L639.6,646.5 L640.6,646.5 L641.6,646.6 L642.6,646.7 L643.6,646.7 L644.6,646.8 L645.6,646.9 L646.6,646.9 L647.6,646.9 L648.6,646.8 L649.6,646.7 L650.5,646.6 L651.5,646.4 L652.5,646.2 L653.5,646.0 L654.5,645.8 L655.5,645.7 L656.5,645.6 L657.5,645.5 L658.5,645.4 L659.5,645.3 L660.5,645.3 L661.5,645.2 L662.5,645.1 L663.5,645.0 L664.5,645.0 L665.5,644.9 L666.5,644.8 L667.5,644.8 L668.4,644.7 L669.4,644.7 L670.4,644.6 L671.4,644.6 L672.4,644.5 L673.4,644.4 L674.4,644.4 L675.4,644.3 L676.4,644.2 L677.4,644.1 L678.4,644.0 L679.4,643.9 L680.4,643.8 L681.4,643.7 L682.4,643.7 L683.4,643.7 L684.4,643.8 L685.4,643.8 L686.4,643.9 L687.4,644.0 L688.4,644.1 L689.4,644.1 L690.4,644.1 L691.4,644.0 L692.4,643.9 L693.4,643.8 L694.4,643.7 L695.4,643.6 L696.4,643.4 L697.4,643.3 L698.3,643.1 L699.3,643.0 L700.3,642.8 L701.3,642.7 L702.3,642.6 L703.3,642.6 L704.3,642.7 L705.3,642.8 L706.3,642.9 L707.3,643.0 L708.3,643.2 L709.3,643.4 L710.2,643.5 L711.2,643.7 L712.2,643.8 L713.2,644.0 L714.2,644.1 L715.2,644.3 L716.2,644.4 L717.2,644.6 L718.2,644.7 L719.2,644.8 L720.1,644.9 L721.1,645.1 L722.1,645.2 L723.1,645.3 L724.1,645.4 L725.1,645.5 L726.1,645.6 L727.1,645.6 L728.1,645.7 L729.1,645.7 L730.1,645.8 L731.1,645.8 L732.1,645.9 L733.1,645.9 L734.1,646.0 L735.1,646.0 L736.1,646.0 L737.1,646.1 L738.1,646.1 L739.1,646.1 L740.1,646.1 L741.1,646.1 L742.1,646.0 L743.1,645.8 L744.1,645.7 L745.1,645.5 L746.0,645.3 L747.0,645.2 L748.0,645.0 L749.0,644.8 L750.0,644.6 L751.0,644.4 L752.0,644.2 L752.9,644.0 L753.9,643.9 L754.9,643.8 L755.9,643.8 L756.9,643.7 L757.9,643.7 L758.9,643.7 L759.9,643.6 L760.9,643.6 L761.9,643.6 L762.9,643.6 L763.9,643.6 L764.9,643.7 L765.9,643.8 L766.9,643.9 L767.9,644.1 L768.9,644.2 L769.9,644.4 L770.9,644.5 L771.9,644.6 L772.9,644.7 L773.8,644.7 L774.8,644.7 L775.8,644.6 L776.8,644.5 L777.8,644.4 L778.8,644.2 L779.8,644.1 L780.8,644.0 L781.8,643.9 L782.8,643.8 L783.8,643.7 L784.8,643.6 L785.8,643.4 L786.8,643.3 L787.8,643.3 L788.8,643.2 L789.8,643.2 L790.8,643.2 L791.8,643.3 L792.8,643.3 L793.8,643.4 L794.8,643.5 L795.8,643.5 L796.8,643.6 L797.8,643.6 L798.8,643.7 L799.8,643.7 L800.8,643.7 L801.8,643.7 L802.8,643.7 L803.8,643.7 L804.8,643.7 L805.8,643.7 L806.8,643.6 L807.8,643.6 L808.8,643.6 L809.8,643.6 L810.8,643.6 L811.8,643.5 L812.8,643.5 L813.8,643.4 L814.8,643.3 L815.7,643.2 L816.7,643.2 L817.7,643.1 L818.7,643.0 L819.7,642.9 L820.7,642.9 L821.7,642.8 L822.7,642.7 L823.7,642.7 L824.7,642.6 L825.7,642.5 L826.7,642.5 L827.7,642.4 L828.7,642.4 L829.7,642.4 L830.7,642.4 L831.7,642.4 L832.7,642.5 L833.7,642.5 L834.7,642.6 L835.7,642.7 L836.7,642.8 L837.7,642.9 L838.7,642.9 L839.7,643.1 L840.7,643.2 L841.7,643.4 L842.7,643.5 L843.7,643.7 L844.7,643.8 L845.6,643.9 L846.6,643.9 L847.6,643.9 L848.6,643.8 L849.6,643.8 L850.6,643.7 L851.6,643.7 L852.6,643.6 L853.6,643.5 L854.6,643.4 L855.6,643.3 L856.6,643.1 L857.6,642.9 L858.6,642.6 L859.5,642.4 L860.5,642.2 L861.5,642.1 L862.5,642.0 L863.5,642.0 L864.5,642.0 L865.5,642.1 L866.5,642.1 L867.5,642.2 L868.5,642.3 L869.5,642.3 L870.5,642.4 L871.5,642.4 L872.5,642.5 L873.5,642.6 L874.5,642.6 L875.5,642.7 L876.5,642.8 L877.5,642.8 L878.5,642.8 L879.5,642.9 L880.5,642.9 L881.5,642.9 L882.5,642.9 L883.5,642.8 L884.5,642.8 L885.5,642.8 L886.5,642.7 L887.5,642.6 L888.5,642.6 L889.5,642.5 L890.5,642.4 L891.5,642.4 L892.5,642.3 L893.5,642.2 L894.5,642.1 L895.5,642.0 L896.5,641.9 L897.5,641.8 L898.4,641.8 L899.4,641.7 L900.4,641.7 L901.4,641.7 L902.4,641.8 L903.4,641.9 L904.4,642.0 L905.4,642.2 L906.4,642.4 L907.4,642.6 L908.3,642.8 L909.3,643.0 L910.3,643.2 L911.3,643.4 L912.3,643.6 L913.3,643.7 L914.3,643.9 L915.2,644.1 L916.2,644.2 L917.2,644.4 L918.2,644.5 L919.2,644.6 L920.2,644.6 L921.2,644.7 L922.2,644.8 L923.2,644.8 L924.2,644.8 L925.2,644.9 L926.2,644.9 L927.2,644.9" stroke="#ff0000" stroke-width="2.4"/>
<path d="M787.4,385.6 H886.8" stroke="#ff0000" stroke-width="2.4"/>
<path d="M173.3,652.9 L174.3,652.9 L175.3,652.9 L176.3,652.9 L177.3,652.9 L178.3,652.9 L179.3,652.9 L180.3,652.9 L181.3,652.9 L182.3,652.9 L183.3,652.9 L184.3,652.9 L185.3,652.9 L186.3,652.9 L187.3,652.9 L188.3,652.9 L189.3,652.9 L190.3,652.9 L191.3,652.9 L192.3,652.9 L193.3,652.9 L194.3,652.9 L195.3,652.9 L196.3,652.9 L197.3,652.9 L198.3,652.9 L199.3,652.9 L200.3,652.9 L201.3,652.9 L202.3,652.9 L203.3,652.9 L204.3,652.9 L205.3,652.9 L206.3,652.8 L207.3,652.8 L208.3,652.8 L209.3,652.8 L210.3,652.8 L211.3,652.8 L212.3,652.8 L213.3,652.8 L214.3,652.8 L215.3,652.8 L216.3,652.8 L217.3,652.8 L218.3,652.8 L219.3,652.8 L220.3,652.8 L221.3,652.8 L222.3,652.8 L223.3,652.8 L224.3,652.8 L225.3,652.8 L226.3,652.8 L227.3,652.8 L228.3,652.8 L229.3,652.7 L230.3,652.7 L231.3,652.7 L232.3,652.7 L233.3,652.7 L234.3,652.7 L235.3,652.7 L236.3,652.7 L237.3,652.7 L238.3,652.7 L239.3,652.7 L240.3,652.7 L241.3,652.7 L242.3,652.7 L243.3,652.7 L244.3,652.6 L245.3,652.6 L246.3,652.6 L247.3,652.6 L248.3,652.6 L249.3,652.6 L250.3,652.6 L251.3,652.6 L252.3,652.6 L253.3,652.6 L254.3,652.6 L255.3,652.6 L256.3,652.5 L257.3,652.5 L258.3,652.5 L259.3,652.5 L260.3,652.5 L261.3,652.5 L262.3,652.5 L263.3,652.5 L264.3,652.4 L265.3,652.4 L266.3,652.4 L267.3,652.4 L268.2,652.3 L269.2,652.3 L270.2,652.2 L271.2,652.2 L272.2,652.1 L273.2,652.1 L274.2,652.0 L275.2,652.0 L276.2,651.9 L277.2,651.9 L278.2,651.8 L279.2,651.7 L280.2,651.7 L281.2,651.6 L282.2,651.5 L283.2,651.5 L284.2,651.4 L285.2,651.3 L286.2,651.3 L287.2,651.2 L288.2,651.1 L289.2,651.1 L290.2,651.0 L291.2,650.9 L292.2,650.9 L293.2,650.8 L294.2,650.7 L295.2,650.6 L296.2,650.6 L297.2,650.5 L298.2,650.4 L299.2,650.3 L300.2,650.2 L301.2,650.1 L302.2,650.1 L303.2,650.0 L304.2,649.9 L305.2,649.8 L306.1,649.7 L307.1,649.6 L308.1,649.5 L309.1,649.3 L310.1,649.2 L311.1,649.0 L312.1,648.9 L313.1,648.7 L314.1,648.5 L315.1,648.4 L316.1,648.3 L317.1,648.2 L318.0,648.1 L319.0,648.1 L320.0,648.1 L321.0,648.2 L322.0,648.3 L323.0,648.3 L324.0,648.4 L325.0,648.6 L326.0,648.7 L327.0,648.8 L328.0,648.8 L329.0,648.9 L330.0,648.9 L331.0,648.9 L332.0,648.9 L333.0,648.9 L334.0,648.8 L335.0,648.8 L336.0,648.8 L337.0,648.7 L338.0,648.7 L339.0,648.7 L340.0,648.6 L341.0,648.6 L342.0,648.5 L343.0,648.5 L344.0,648.4 L345.0,648.3 L346.0,648.2 L347.0,648.0 L348.0,647.9 L349.0,647.7 L350.0,647.6 L350.9,647.4 L351.9,647.2 L352.9,647.0 L353.9,646.8 L354.8,646.5 L355.7,646.2 L356.7,645.9 L357.6,645.5 L358.5,645.1 L359.5,644.7 L360.4,644.3 L361.3,643.9 L362.3,643.6 L363.2,643.3 L364.2,643.0 L365.1,642.7 L366.1,642.4 L367.0,642.1 L368.0,641.8 L369.0,641.5 L369.9,641.2 L370.9,641.0 L371.9,640.8 L372.9,640.5 L373.9,640.3 L374.8,640.0 L375.7,639.7 L376.6,639.3 L377.5,638.8 L378.3,638.2 L379.1,637.6 L379.8,636.9 L380.6,636.2 L381.3,635.5 L381.9,634.7 L382.5,634.0 L383.1,633.2 L383.7,632.3 L384.2,631.5 L384.8,630.6 L385.3,629.7 L385.8,628.9 L386.2,628.0 L386.7,627.1 L387.1,626.2 L387.5,625.3 L387.9,624.4 L388.3,623.4 L388.7,622.5 L389.1,621.6 L389.5,620.7 L389.9,619.8 L390.3,618.9 L390.7,617.9 L391.1,616.9 L391.5,616.0 L391.9,615.0 L392.4,614.1 L392.8,613.3 L393.4,612.5 L394.0,611.9 L394.8,611.3 L395.7,610.8 L396.7,610.3 L397.6,609.9 L398.5,609.5 L399.5,609.1 L400.5,608.8 L401.4,608.5 L402.4,608.2 L403.2,607.7 L403.9,607.1 L404.7,606.4 L405.3,605.6 L405.9,604.8 L406.4,603.9 L406.9,603.1 L407.3,602.2 L407.7,601.3 L408.0,600.3 L408.4,599.4 L408.7,598.4 L409.0,597.4 L409.3,596.4 L409.6,595.5 L409.9,594.5 L410.2,593.6 L410.5,592.6 L410.7,591.7 L411.0,590.7 L411.3,589.7 L411.5,588.8 L411.8,587.8 L412.1,586.8 L412.3,585.9 L412.6,584.9 L412.8,583.9 L413.1,583.0 L413.3,582.0 L413.6,581.0 L413.8,580.1 L414.0,579.1 L414.3,578.1 L414.5,577.1 L414.8,576.2 L415.0,575.2 L415.2,574.2 L415.4,573.2 L415.6,572.3 L415.8,571.3 L416.0,570.3 L416.2,569.3 L416.4,568.4 L416.6,567.4 L416.8,566.4 L416.9,565.4 L417.1,564.4 L417.3,563.4 L417.4,562.4 L417.6,561.5 L417.8,560.5 L417.9,559.5 L418.1,558.5 L418.2,557.5 L418.4,556.5 L418.5,555.5 L418.6,554.5 L418.8,553.5 L418.9,552.6 L419.0,551.6 L419.2,550.6 L419.3,549.6 L419.4,548.6 L419.5,547.6 L419.6,546.6 L419.8,545.6 L419.9,544.6 L420.0,543.6 L420.1,542.6 L420.2,541.6 L420.3,540.6 L420.4,539.6 L420.5,538.7 L420.6,537.7 L420.7,536.7 L420.8,535.7 L420.9,534.7 L421.0,533.7 L421.1,532.7 L421.2,531.7 L421.3,530.7 L421.4,529.7 L421.5,528.7 L421.6,527.7 L421.7,526.7 L421.8,525.7 L421.9,524.7 L421.9,523.7 L422.0,522.7 L422.1,521.7 L422.2,520.7 L422.3,519.7 L422.4,518.7 L422.4,517.8 L422.5,516.8 L422.6,515.8 L422.7,514.8 L422.8,513.8 L422.8,512.8 L422.9,511.8 L423.0,510.8 L423.1,509.8 L423.1,508.8 L423.2,507.8 L423.3,506.8 L423.4,505.8 L423.4,504.8 L423.5,503.8 L423.6,502.8 L423.6,501.8 L423.7,500.8 L423.8,499.8 L423.9,498.8 L423.9,497.8 L424.0,496.8 L424.1,495.8 L424.1,494.8 L424.2,493.8 L424.3,492.8 L424.3,491.8 L424.4,490.8 L424.5,489.8 L424.5,488.8 L424.6,487.8 L424.7,486.8 L424.7,485.8 L424.8,484.9 L424.9,483.9 L424.9,482.9 L425.0,481.9 L425.1,480.9 L425.1,479.9 L425.2,478.9 L425.3,477.9 L425.3,476.9 L425.4,475.9 L425.5,474.9 L425.6,473.9 L425.6,472.9 L425.7,471.9 L425.8,470.9 L425.9,469.9 L426.0,468.9 L426.0,467.9 L426.1,466.9 L426.2,465.9 L426.3,464.9 L426.4,463.9 L426.5,462.9 L426.6,461.9 L426.7,460.9 L426.8,459.9 L426.9,458.9 L427.0,458.0 L427.1,457.0 L427.2,456.0 L427.3,455.0 L427.4,454.0 L427.5,453.0 L427.6,452.0 L427.7,451.0 L427.8,450.0 L428.0,449.0 L428.1,448.0 L428.2,447.0 L428.3,446.0 L428.5,445.0 L428.6,444.1 L428.8,443.1 L428.9,442.1 L429.1,441.1 L429.2,440.1 L429.4,439.1 L429.5,438.1 L429.7,437.1 L429.8,436.2 L430.0,435.2 L430.1,434.2 L430.3,433.2 L430.4,432.2 L430.5,431.2 L430.7,430.2 L430.8,429.2 L430.9,428.2 L431.0,427.2 L431.1,426.2 L431.2,425.2 L431.3,424.2 L431.4,423.3 L431.5,422.3 L431.6,421.3 L431.7,420.3 L431.9,419.3 L432.0,418.3 L432.1,417.3 L432.3,416.3 L432.4,415.3 L432.6,414.3 L432.7,413.4 L432.9,412.4 L433.0,411.4 L433.2,410.4 L433.4,409.4 L433.5,408.4 L433.7,407.4 L433.8,406.4 L434.0,405.5 L434.2,404.5 L434.3,403.5 L434.5,402.5 L434.7,401.5 L434.8,400.5 L435.0,399.5 L435.3,398.6 L435.5,397.4 L435.7,396.1 L436.0,395.1 L436.3,394.5 L437.2,394.4 L437.8,394.6 L438.1,395.4 L438.3,396.6 L438.5,397.8 L438.7,398.9 L438.8,399.9 L439.0,400.9 L439.1,401.8 L439.2,402.8 L439.3,403.8 L439.4,404.8 L439.5,405.8 L439.6,406.8 L439.8,407.8 L439.9,408.8 L440.0,409.8 L440.1,410.8 L440.2,411.8 L440.3,412.8 L440.4,413.8 L440.5,414.8 L440.6,415.8 L440.7,416.8 L440.8,417.8 L440.9,418.8 L441.0,419.8 L441.0,420.8 L441.1,421.7 L441.2,422.7 L441.3,423.7 L441.4,424.7 L441.5,425.7 L441.5,426.7 L441.6,427.7 L441.7,428.7 L441.8,429.7 L441.9,430.7 L442.0,431.7 L442.1,432.7 L442.2,433.7 L442.3,434.7 L442.4,435.7 L442.5,436.7 L442.6,437.7 L442.7,438.7 L442.8,439.7 L442.9,440.6 L443.1,441.6 L443.2,442.6 L443.3,443.6 L443.4,444.6 L443.5,445.6 L443.6,446.6 L443.8,447.6 L443.9,448.6 L444.0,449.6 L444.1,450.6 L444.2,451.6 L444.3,452.6 L444.5,453.6 L444.6,454.5 L444.7,455.5 L444.8,456.5 L444.9,457.5 L445.0,458.5 L445.2,459.5 L445.3,460.5 L445.4,461.5 L445.5,462.5 L445.7,463.5 L445.8,464.5 L445.9,465.5 L446.1,466.5 L446.2,467.4 L446.3,468.4 L446.5,469.4 L446.6,470.4 L446.8,471.4 L447.0,472.4 L447.1,473.4 L447.3,474.3 L447.5,475.3 L447.6,476.3 L447.8,477.3 L448.0,478.3 L448.2,479.3 L448.4,480.3 L448.6,481.2 L448.8,482.2 L449.0,483.2 L449.2,484.2 L449.4,485.2 L449.6,486.1 L449.8,487.1 L450.0,488.1 L450.2,489.1 L450.4,490.0 L450.6,491.0 L450.9,492.0 L451.1,493.0 L451.3,493.9 L451.6,494.9 L451.8,495.9 L452.0,496.8 L452.3,497.8 L452.5,498.8 L452.7,499.8 L452.9,500.7 L453.2,501.7 L453.4,502.7 L453.6,503.7 L453.8,504.6 L454.1,505.6 L454.3,506.6 L454.5,507.6 L454.7,508.5 L454.9,509.5 L455.2,510.5 L455.4,511.5 L455.6,512.4 L455.8,513.4 L456.0,514.4 L456.3,515.4 L456.5,516.3 L456.7,517.3 L456.9,518.3 L457.1,519.3 L457.3,520.2 L457.6,521.2 L457.8,522.2 L458.0,523.2 L458.2,524.1 L458.4,525.1 L458.6,526.1 L458.8,527.1 L459.0,528.1 L459.2,529.0 L459.4,530.0 L459.5,531.0 L459.7,532.0 L459.9,533.0 L460.0,534.0 L460.2,535.0 L460.4,535.9 L460.5,536.9 L460.7,537.9 L460.8,538.9 L461.0,539.9 L461.2,540.9 L461.3,541.9 L461.5,542.8 L461.7,543.8 L461.8,544.8 L462.0,545.8 L462.1,546.8 L462.3,547.8 L462.4,548.8 L462.6,549.8 L462.8,550.7 L463.0,551.7 L463.1,552.7 L463.3,553.7 L463.5,554.7 L463.7,555.7 L463.9,556.7 L464.1,557.7 L464.2,558.7 L464.4,559.7 L464.7,560.7 L464.9,561.7 L465.1,562.6 L465.4,563.6 L465.7,564.5 L466.1,565.3 L466.6,566.3 L467.1,567.3 L467.8,568.2 L468.5,568.9 L469.3,569.2 L470.1,569.3 L471.1,569.4 L472.2,569.5 L473.2,569.6 L474.3,569.7 L475.4,569.8 L476.4,570.0 L477.4,570.2 L478.0,570.4 L478.6,571.0 L479.1,571.7 L479.6,572.7 L480.0,573.8 L480.3,574.9 L480.7,575.9 L481.1,576.9 L481.5,577.8 L481.9,578.7 L482.3,579.6 L482.7,580.6 L483.1,581.5 L483.5,582.4 L483.8,583.3 L484.2,584.3 L484.5,585.2 L484.9,586.2 L485.2,587.1 L485.5,588.0 L485.8,589.0 L486.1,590.0 L486.4,590.9 L486.7,591.9 L487.0,592.8 L487.3,593.8 L487.5,594.7 L487.8,595.7 L488.1,596.7 L488.4,597.6 L488.7,598.6 L488.9,599.5 L489.2,600.5 L489.5,601.5 L489.8,602.4 L490.0,603.4 L490.3,604.4 L490.6,605.3 L490.9,606.3 L491.2,607.2 L491.5,608.2 L491.9,609.1 L492.2,610.0 L492.6,611.0 L492.9,611.9 L493.3,612.9 L493.7,613.8 L494.1,614.8 L494.6,615.7 L495.0,616.5 L495.5,617.4 L496.0,618.2 L496.6,619.0 L497.2,620.0 L497.8,620.9 L498.6,621.7 L499.3,622.4 L500.1,622.8 L501.0,622.8 L502.0,622.8 L503.1,622.8 L504.1,622.8 L505.2,622.8 L506.0,622.8 L506.8,623.1 L507.5,623.7 L508.1,624.5 L508.8,625.5 L509.4,626.5 L510.1,627.3 L510.7,628.1 L511.4,629.0 L512.1,629.9 L512.8,630.7 L513.5,631.4 L514.2,631.8 L515.1,632.0 L516.0,632.1 L517.1,632.2 L518.1,632.2 L519.1,632.3 L520.1,632.3 L521.1,632.1 L522.0,631.6 L523.0,631.1 L523.9,630.8 L524.9,630.8 L525.8,631.0 L526.8,631.4 L527.7,631.9 L528.6,632.4 L529.5,632.9 L530.3,633.4 L531.0,634.2 L531.7,635.0 L532.3,635.8 L533.0,636.5 L533.8,637.1 L534.6,637.5 L535.5,637.9 L536.5,638.2 L537.5,638.4 L538.5,638.6 L539.5,638.8 L540.5,638.9 L541.5,639.1 L542.5,639.1 L543.5,639.2 L544.5,639.3 L545.5,639.4 L546.4,639.6 L547.4,639.8 L548.4,640.0 L549.4,640.2 L550.4,640.5 L551.4,640.6 L552.3,640.7 L553.3,640.7 L554.3,640.7 L555.3,640.8 L556.3,640.8 L557.3,640.8 L558.3,640.8 L559.3,640.9 L560.3,641.1 L561.3,641.4 L562.2,641.7 L563.2,642.0 L564.1,642.3 L565.1,642.6 L566.1,642.8 L567.1,642.9 L568.1,643.1 L569.1,643.2 L570.1,643.3 L571.1,643.4 L572.0,643.5 L573.0,643.6 L574.0,643.7 L575.0,643.8 L576.0,644.0 L577.0,644.1 L578.0,644.4 L578.9,644.6 L579.9,645.0 L580.9,645.3 L581.8,645.6 L582.8,645.9 L583.8,646.1 L584.7,646.3 L585.7,646.5 L586.7,646.5 L587.7,646.5 L588.7,646.5 L589.7,646.5 L590.7,646.5 L591.7,646.5 L592.7,646.5 L593.7,646.5 L594.7,646.5 L595.7,646.5 L596.7,646.5 L597.7,646.5 L598.7,646.5 L599.7,646.5 L600.7,646.5 L601.7,646.5 L602.7,646.5 L603.7,646.5 L604.7,646.5 L605.7,646.5 L606.7,646.6 L607.7,646.7 L608.7,646.8 L609.7,646.9 L610.7,647.0 L611.7,647.2 L612.7,647.3 L613.6,647.4 L614.6,647.5 L615.6,647.6 L616.6,647.8 L617.6,647.9 L618.6,648.0 L619.6,648.2 L620.6,648.3 L621.6,648.4 L622.6,648.5 L623.6,648.5 L624.6,648.6 L625.6,648.7 L626.6,648.8 L627.6,648.8 L628.6,648.9 L629.6,648.9 L630.6,649.0 L631.6,649.0 L632.6,649.1 L633.6,649.1 L634.6,649.1 L635.6,649.1 L636.6,649.1 L637.6,649.1 L638.6,649.1 L639.6,649.1 L640.6,649.0 L641.6,649.0 L642.6,649.0 L643.6,649.0 L644.6,649.0 L645.6,648.9 L646.6,648.9 L647.6,648.9 L648.6,648.9 L649.5,648.8 L650.5,648.8 L651.5,648.8 L652.5,648.8 L653.5,648.7 L654.5,648.7 L655.5,648.7 L656.5,648.6 L657.5,648.6 L658.5,648.5 L659.5,648.5 L660.5,648.4 L661.5,648.4 L662.5,648.3 L663.5,648.3 L664.5,648.2 L665.5,648.2 L666.5,648.1 L667.5,648.0 L668.5,647.9 L669.5,647.9 L670.5,647.8 L671.5,647.7 L672.5,647.6 L673.5,647.5 L674.5,647.3 L675.5,647.2 L676.5,647.0 L677.5,646.9 L678.5,646.7 L679.4,646.6 L680.4,646.5 L681.4,646.5 L682.4,646.5 L683.4,646.6 L684.4,646.6 L685.4,646.7 L686.4,646.8 L687.4,647.0 L688.4,647.1 L689.4,647.2 L690.4,647.3 L691.4,647.4 L692.4,647.5 L693.4,647.5 L694.4,647.5 L695.4,647.5 L696.4,647.4 L697.4,647.3 L698.4,647.2 L699.4,647.1 L700.4,646.9 L701.4,646.8 L702.4,646.7 L703.3,646.6 L704.3,646.6 L705.3,646.5 L706.3,646.5 L707.3,646.5 L708.3,646.6 L709.3,646.6 L710.3,646.7 L711.3,646.8 L712.3,646.9 L713.3,647.0 L714.3,647.1 L715.3,647.3 L716.3,647.4 L717.3,647.4 L718.3,647.5 L719.3,647.6 L720.3,647.6 L721.3,647.7 L722.3,647.7 L723.3,647.8 L724.3,647.8 L725.3,647.9 L726.3,647.9 L727.3,647.9 L728.3,648.0 L729.3,648.0 L730.3,648.1 L731.3,648.2 L732.3,648.2 L733.3,648.3 L734.3,648.4 L735.3,648.5 L736.3,648.6 L737.3,648.7 L738.2,648.7 L739.2,648.8 L740.2,648.8 L741.2,648.9 L742.2,648.9 L743.2,648.9 L744.2,648.9 L745.2,648.9 L746.2,648.9 L747.2,648.9 L748.2,648.9 L749.2,648.9 L750.2,648.9 L751.2,648.8 L752.2,648.8 L753.2,648.7 L754.2,648.7 L755.2,648.7 L756.2,648.6 L757.2,648.6 L758.2,648.5 L759.2,648.5 L760.2,648.5 L761.2,648.5 L762.2,648.5 L763.2,648.5 L764.2,648.6 L765.2,648.7 L766.2,648.8 L767.2,648.9 L768.2,649.0 L769.2,649.1 L770.2,649.2 L771.2,649.3 L772.2,649.4 L773.2,649.4 L774.2,649.5 L775.2,649.5 L776.2,649.5 L777.2,649.5 L778.2,649.4 L779.2,649.4 L780.2,649.3 L781.2,649.2 L782.2,649.1 L783.2,649.0 L784.2,648.9 L785.2,648.8 L786.1,648.7 L787.1,648.6 L788.1,648.5 L789.1,648.3 L790.1,648.2 L791.1,648.1 L792.1,647.9 L793.1,647.7 L794.1,647.6 L795.1,647.4 L796.0,647.2 L797.0,647.0 L798.0,646.9 L799.0,646.7 L800.0,646.5 L800.9,646.3 L801.9,646.0 L802.9,645.8 L803.8,645.5 L804.8,645.2 L805.8,645.0 L806.7,644.7 L807.7,644.5 L808.7,644.3 L809.7,644.1 L810.6,643.9 L811.6,643.7 L812.6,643.6 L813.6,643.4 L814.6,643.3 L815.6,643.1 L816.6,643.0 L817.6,642.8 L818.6,642.7 L819.6,642.6 L820.6,642.5 L821.6,642.4 L822.5,642.4 L823.5,642.3 L824.5,642.3 L825.5,642.2 L826.5,642.2 L827.5,642.1 L828.5,642.1 L829.5,642.1 L830.5,642.0 L831.5,642.0 L832.5,641.9 L833.5,641.9 L834.5,641.8 L835.5,641.7 L836.5,641.6 L837.5,641.5 L838.5,641.3 L839.5,641.2 L840.5,641.0 L841.5,640.8 L842.4,640.7 L843.4,640.5 L844.4,640.4 L845.4,640.3 L846.4,640.1 L847.4,640.0 L848.4,639.8 L849.4,639.6 L850.4,639.5 L851.4,639.4 L852.3,639.2 L853.3,639.1 L854.3,639.0 L855.3,638.9 L856.3,638.9 L857.3,638.8 L858.3,638.8 L859.3,638.7 L860.3,638.7 L861.3,638.6 L862.3,638.5 L863.3,638.4 L864.3,638.3 L865.3,638.2 L866.3,638.2 L867.3,638.3 L868.3,638.4 L869.3,638.5 L870.3,638.6 L871.2,638.8 L872.2,639.1 L873.2,639.3 L874.1,639.6 L875.1,639.9 L876.1,640.2 L877.0,640.6 L877.9,640.9 L878.9,641.3 L879.8,641.6 L880.8,641.8 L881.8,642.0 L882.8,642.1 L883.7,642.3 L884.7,642.5 L885.7,642.6 L886.7,642.7 L887.7,642.8 L888.7,642.9 L889.7,643.0 L890.7,643.0 L891.7,643.0 L892.7,642.9 L893.7,642.8 L894.7,642.7 L895.7,642.6 L896.7,642.4 L897.7,642.3 L898.7,642.1 L899.6,641.9 L900.6,641.7 L901.6,641.4 L902.5,641.1 L903.5,640.7 L904.4,640.4 L905.3,640.0 L906.3,639.7 L907.2,639.4 L908.2,639.1 L909.2,638.8 L910.1,638.5 L911.1,638.2 L912.0,637.9 L913.0,637.6 L913.9,637.3 L914.9,637.1 L915.9,636.9 L916.9,636.7 L917.8,636.5 L918.8,636.3 L919.8,636.2 L920.8,636.0 L921.8,635.8 L922.8,635.7 L923.8,635.6 L924.8,635.4 L925.8,635.3" stroke="#0000ff" stroke-width="3.3" stroke-dasharray="3.6 8.3" stroke-dashoffset="-1.5" stroke-linecap="round"/>
<path d="M788.35,429.3 H885.4" stroke="#0000ff" stroke-width="3.3" stroke-dasharray="3.6 8.3" stroke-linecap="round"/>
</g>
<g fill="none" stroke="#000" stroke-width="1.75" stroke-linecap="butt">
<path d="M203.70,347.5 v-8.3 M203.70,36.2 v8.7 M233.80,347.5 v-8.3 M233.80,36.2 v8.7 M263.89,347.5 v-8.3 M263.89,36.2 v8.7 M293.99,347.5 v-8.3 M293.99,36.2 v8.7 M324.09,347.5 v-17.5 M324.09,36.2 v17.4 M354.19,347.5 v-8.3 M354.19,36.2 v8.7 M384.29,347.5 v-8.3 M384.29,36.2 v8.7 M414.38,347.5 v-8.3 M414.38,36.2 v8.7 M444.48,347.5 v-8.3 M444.48,36.2 v8.7 M474.58,347.5 v-17.5 M474.58,36.2 v17.4 M504.68,347.5 v-8.3 M504.68,36.2 v8.7 M534.78,347.5 v-8.3 M534.78,36.2 v8.7 M564.87,347.5 v-8.3 M564.87,36.2 v8.7 M594.97,347.5 v-8.3 M594.97,36.2 v8.7 M625.07,347.5 v-17.5 M625.07,36.2 v17.4 M655.17,347.5 v-8.3 M655.17,36.2 v8.7 M685.27,347.5 v-8.3 M685.27,36.2 v8.7 M715.36,347.5 v-8.3 M715.36,36.2 v8.7 M745.46,347.5 v-8.3 M745.46,36.2 v8.7 M775.56,347.5 v-17.5 M775.56,36.2 v17.4 M805.66,347.5 v-8.3 M805.66,36.2 v8.7 M835.76,347.5 v-8.3 M835.76,36.2 v8.7 M865.85,347.5 v-8.3 M865.85,36.2 v8.7 M895.95,347.5 v-8.3 M895.95,36.2 v8.7 M173.3,55.00 h10.2 M925.75,55.00 h-8.6 M173.3,74.90 h17.6 M925.75,74.90 h-17.7 M173.3,95.00 h10.2 M925.75,95.00 h-8.6 M173.3,113.20 h17.6 M925.75,113.20 h-17.7 M173.3,133.50 h10.2 M925.75,133.50 h-8.6 M173.3,153.40 h17.6 M925.75,153.40 h-17.7 M173.3,172.00 h10.2 M925.75,172.00 h-8.6 M173.3,191.90 h17.6 M925.75,191.90 h-17.7 M173.3,212.00 h10.2 M925.75,212.00 h-8.6 M173.3,230.40 h17.6 M925.75,230.40 h-17.7 M173.3,250.50 h10.2 M925.75,250.50 h-8.6 M173.3,270.50 h17.6 M925.75,270.50 h-17.7 M173.3,288.90 h10.2 M925.75,288.90 h-8.6 M173.3,308.90 h17.6 M925.75,308.90 h-17.7 M173.3,327.40 h10.2 M925.75,327.40 h-8.6" stroke-width="1.6"/>
<path d="M203.70,652.4 v-8.2 M203.70,347.5 v8.4 M233.80,652.4 v-8.2 M233.80,347.5 v8.4 M263.89,652.4 v-8.2 M263.89,347.5 v8.4 M293.99,652.4 v-8.2 M293.99,347.5 v8.4 M324.09,652.4 v-17.1 M324.09,347.5 v17.5 M354.19,652.4 v-8.2 M354.19,347.5 v8.4 M384.29,652.4 v-8.2 M384.29,347.5 v8.4 M414.38,652.4 v-8.2 M414.38,347.5 v8.4 M444.48,652.4 v-8.2 M444.48,347.5 v8.4 M474.58,652.4 v-17.1 M474.58,347.5 v17.5 M504.68,652.4 v-8.2 M504.68,347.5 v8.4 M534.78,652.4 v-8.2 M534.78,347.5 v8.4 M564.87,652.4 v-8.2 M564.87,347.5 v8.4 M594.97,652.4 v-8.2 M594.97,347.5 v8.4 M625.07,652.4 v-17.1 M625.07,347.5 v17.5 M655.17,652.4 v-8.2 M655.17,347.5 v8.4 M685.27,652.4 v-8.2 M685.27,347.5 v8.4 M715.36,652.4 v-8.2 M715.36,347.5 v8.4 M745.46,652.4 v-8.2 M745.46,347.5 v8.4 M775.56,652.4 v-17.1 M775.56,347.5 v17.5 M805.66,652.4 v-8.2 M805.66,347.5 v8.4 M835.76,652.4 v-8.2 M835.76,347.5 v8.4 M865.85,652.4 v-8.2 M865.85,347.5 v8.4 M895.95,652.4 v-8.2 M895.95,347.5 v8.4 M173.3,365.90 h10.2 M925.75,365.90 h-8.6 M173.3,384.30 h17.6 M925.75,384.30 h-17.7 M173.3,404.60 h10.2 M925.75,404.60 h-8.6 M173.3,423.00 h17.6 M925.75,423.00 h-17.7 M173.3,443.00 h10.2 M925.75,443.00 h-8.6 M173.3,461.60 h17.6 M925.75,461.60 h-17.7 M173.3,480.00 h10.2 M925.75,480.00 h-8.6 M173.3,499.85 h17.6 M925.75,499.85 h-17.7 M173.3,518.50 h10.2 M925.75,518.50 h-8.6 M173.3,538.60 h17.6 M925.75,538.60 h-17.7 M173.3,556.90 h10.2 M925.75,556.90 h-8.6 M173.3,577.00 h17.6 M925.75,577.00 h-17.7 M173.3,595.70 h10.2 M925.75,595.70 h-8.6 M173.3,615.60 h17.6 M925.75,615.60 h-17.7 M173.3,634.00 h10.2 M925.75,634.00 h-8.6" stroke-width="1.6"/>
<rect x="173.3" y="36.2" width="752.45" height="616.1999999999999" stroke-linejoin="miter"/>
<path d="M172.4,346.6 H926.65" stroke-width="3.4"/>
</g>
<g font-family="Liberation Sans, sans-serif" font-size="37" fill="#000" opacity="0.999" style="font-kerning:none">
<text transform="translate(154.40,320.51)" text-anchor="end">0.1</text>
<text transform="translate(154.40,281.79)" text-anchor="end">0.2</text>
<text transform="translate(154.40,243.07)" text-anchor="end">0.3</text>
<text transform="translate(154.40,204.35)" text-anchor="end">0.4</text>
<text transform="translate(154.40,165.63)" text-anchor="end">0.5</text>
<text transform="translate(154.40,126.91)" text-anchor="end">0.6</text>
<text transform="translate(154.40,88.19)" text-anchor="end">0.7</text>
<text transform="translate(154.40,47.96)" text-anchor="end">0.8</text>
<text transform="translate(154.40,666.11)" text-anchor="end">0</text>
<text transform="translate(154.40,627.80)" text-anchor="end">0.1</text>
<text transform="translate(154.40,589.49)" text-anchor="end">0.2</text>
<text transform="translate(154.40,551.18)" text-anchor="end">0.3</text>
<text transform="translate(154.40,512.87)" text-anchor="end">0.4</text>
<text transform="translate(154.40,474.56)" text-anchor="end">0.5</text>
<text transform="translate(154.40,436.25)" text-anchor="end">0.6</text>
<text transform="translate(154.40,397.94)" text-anchor="end">0.7</text>
<text transform="translate(154.40,359.11)" text-anchor="end">0.8</text>
<text transform="translate(183.80,692.30)" text-anchor="middle">0</text>
<text transform="translate(328.99,692.30)" text-anchor="middle">10</text>
<text transform="translate(479.48,692.30)" text-anchor="middle">20</text>
<text transform="translate(629.97,692.30)" text-anchor="middle">30</text>
<text transform="translate(780.46,692.30)" text-anchor="middle">40</text>
<text transform="translate(930.95,692.30)" text-anchor="middle">50</text>
<text transform="translate(552.40,730.40) scale(1.003,1)" text-anchor="middle">Excitation energy (MeV)</text>
<text transform="translate(766.80,86.60)" text-anchor="end"><tspan font-size="36">RPA</tspan></text>
<text transform="translate(770.00,399.30) scale(1.004,1)" text-anchor="end"><tspan font-size="36">SSRPA</tspan><tspan font-size="28.8" dy="8.2">F</tspan></text>
<text transform="translate(769.70,442.20) scale(1.004,1)" text-anchor="end"><tspan font-size="36">SSRPA</tspan><tspan font-size="28.8" dy="8.2">D</tspan></text>
<text transform="translate(52.50,185.60) rotate(-90)" text-anchor="middle">S(IV 1<tspan font-size="29.6" dy="-13">-</tspan><tspan dy="13">) (fm</tspan><tspan font-size="29.6" dy="-13.6">2</tspan><tspan dy="13.6">)</tspan></text>
<text transform="translate(52.50,492.40) rotate(-90)" text-anchor="middle">S(IV 1<tspan font-size="29.6" dy="-13">-</tspan><tspan dy="13">) (fm</tspan><tspan font-size="29.6" dy="-13.6">2</tspan><tspan dy="13.6">)</tspan></text>
</g>
</svg>
</body></html>
